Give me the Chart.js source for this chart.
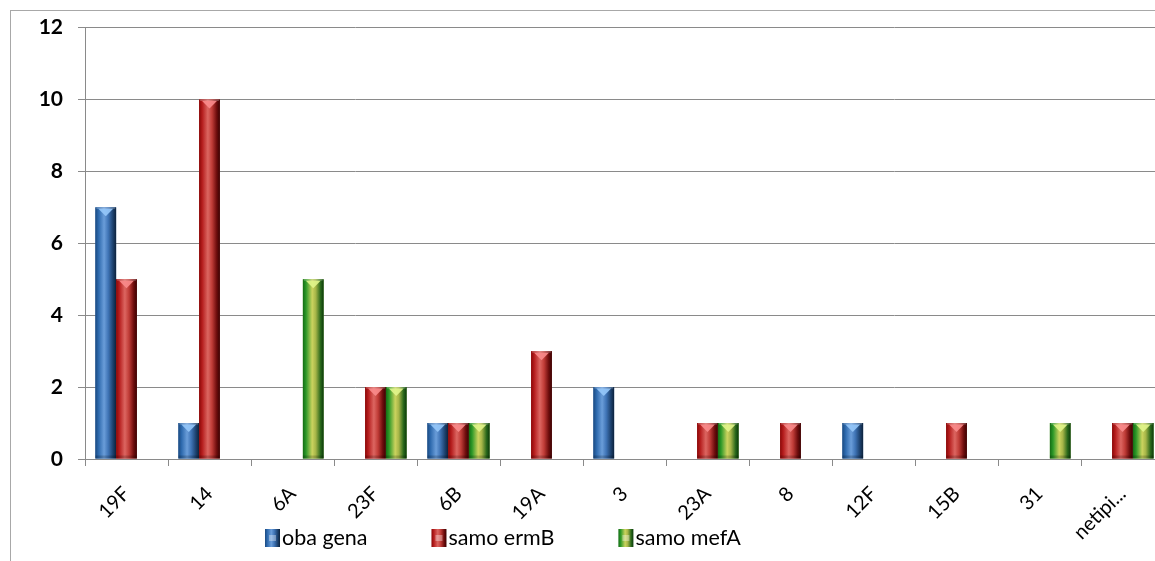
<!DOCTYPE html>
<html>
<head>
<meta charset="utf-8">
<script src="https://cdn.jsdelivr.net/npm/chart.js@4/dist/chart.umd.min.js"></script>
<style>
  html, body { margin: 0; padding: 0; background: #fff; overflow: hidden; }
  #frame { position: absolute; left: 10px; top: 10px; width: 1300px; height: 700px;
           border: 1px solid #a8a8a8; box-sizing: border-box; }
  #wrap { position: absolute; left: 0; top: 0; width: 1175px; height: 561px; }
</style>
</head>
<body>
<div id="frame"></div>
<div id="wrap"><canvas id="c"></canvas></div>
<script>
// Serotypes on the x axis
const categories = ['19F', '14', '6A', '23F', '6B', '19A', '3', '23A', '8', '12F', '15B', '31', 'netipi...'];

// Number of isolates per resistance-gene profile
const obaGena   = [7, 1, 0, 0, 1, 0, 2, 0, 0, 1, 0, 0, 0];
const samoErmB  = [5, 10, 0, 2, 1, 3, 0, 1, 1, 0, 1, 0, 1];
const samoMefA  = [0, 0, 5, 2, 1, 0, 0, 1, 0, 0, 0, 1, 1];

const seriesNames = ['oba gena', 'samo ermB', 'samo mefA'];
const yTicks = [0, 2, 4, 6, 8, 10, 12];

const FONT = 'Lato, "Open Sans", sans-serif';
const GRID = '#8a8a8a';

// Cylinder-like shading for each series: [stop, colour]
const shades = [
  { base: '#3a6fb0', hi: 'rgba(150,200,250,0.9)',
    stops: [[0, '#1b4a80'], [0.15, '#2d69ad'], [0.42, '#6a9dd9'], [0.62, '#3f74b6'], [0.85, '#1c406c'], [1, '#0d223c']] },
  { base: '#b83030', hi: 'rgba(250,140,140,0.9)',
    stops: [[0, '#8a0808'], [0.15, '#b51d1d'], [0.42, '#dc6661'], [0.62, '#c03c37'], [0.85, '#6c0c0c'], [1, '#380303']] },
  { base: '#6ea83a', hi: 'rgba(225,245,140,0.9)',
    stops: [[0, '#136c13'], [0.15, '#2c9828'], [0.45, '#cbd35e'], [0.62, '#a6b548'], [0.85, '#2a681b'], [1, '#0a380a']] }
];

function shadeGradient(ctx, x0, x1, idx) {
  const g = ctx.createLinearGradient(x0, 0, x1, 0);
  shades[idx].stops.forEach(s => g.addColorStop(s[0], s[1]));
  return g;
}

// Paints the shaded columns over the flat bars that Chart.js lays out
const barShading = {
  id: 'barShading',
  afterDatasetsDraw(chart) {
    const ctx = chart.ctx;
    ctx.save();
    chart.data.datasets.forEach((ds, di) => {
      const meta = chart.getDatasetMeta(di);
      meta.data.forEach((el, i) => {
        if (!ds.data[i]) return;
        const p = el.getProps(['x', 'y', 'base', 'width'], true);
        const x0 = p.x - p.width / 2, x1 = p.x + p.width / 2;
        const top = Math.min(p.y, p.base), bot = Math.max(p.y, p.base);
        ctx.fillStyle = shadeGradient(ctx, x0, x1, di);
        ctx.fillRect(x0, top, p.width, bot - top);
        // darker bevel at the foot of the column
        ctx.fillStyle = 'rgba(0,0,0,0.18)';
        ctx.fillRect(x0, bot - 3, p.width, 3);
        // light bevel cap at the top
        ctx.fillStyle = shades[di].hi;
        ctx.beginPath();
        ctx.moveTo(x0 + 3, top + 1.5);
        ctx.lineTo(x1 - 3, top + 1.5);
        ctx.lineTo(p.x, top + 9);
        ctx.closePath();
        ctx.fill();
        ctx.fillStyle = 'rgba(255,255,255,0.25)';
        ctx.fillRect(x0 + 1, top, p.width - 2, 1.5);
      });
    });
    ctx.restore();
  }
};

// Legend row under the axis labels
const bottomLegend = {
  id: 'bottomLegend',
  afterDraw(chart) {
    const ctx = chart.ctx;
    ctx.save();
    ctx.font = '21.5px ' + FONT;
    ctx.textBaseline = 'middle';
    ctx.textAlign = 'left';
    let x = 265;
    const yMid = 538;
    const gap = 64;
    chart.data.datasets.forEach((ds, di) => {
      const bw = 15, bh = 18;
      ctx.fillStyle = shadeGradient(ctx, x, x + bw, di);
      ctx.fillRect(x, yMid - bh / 2, bw, bh);
      ctx.fillStyle = 'rgba(255,255,255,0.35)';
      ctx.fillRect(x + 4, yMid - 3, bw - 8, 6);
      ctx.fillStyle = '#000';
      ctx.fillText(ds.label, x + bw + 2, yMid);
      x += bw + 2 + ctx.measureText(ds.label).width + gap;
    });
    ctx.restore();
  }
};

const seriesValues = [obaGena, samoErmB, samoMefA];

new Chart(document.getElementById('c'), {
  type: 'bar',
  data: {
    labels: categories,
    datasets: seriesNames.map((name, i) => ({
      label: name,
      data: seriesValues[i],
      backgroundColor: shades[i].base,
      borderWidth: 0,
      barPercentage: 1,
      categoryPercentage: 0.75
    }))
  },
  options: {
    responsive: true,
    maintainAspectRatio: false,
    animation: false,
    layout: { padding: { left: 10, right: 11, top: 24, bottom: 0 } },
    plugins: {
      legend: { display: false },
      tooltip: { enabled: false }
    },
    scales: {
      x: {
        offset: true,
        grid: { display: true, drawOnChartArea: false, drawTicks: true, tickLength: 7, offset: true, color: GRID },
        border: { display: true, color: GRID, width: 1 },
        ticks: {
          color: '#000',
          font: { family: FONT, size: 20 },
          minRotation: 45, maxRotation: 45,
          autoSkip: false,
          padding: 16
        },
        afterFit(scale) { scale.height = 102; }
      },
      y: {
        min: 0, max: 12,
        afterBuildTicks(scale) { scale.ticks = yTicks.map(v => ({ value: v })); },
        grid: { color: GRID, drawTicks: true, tickLength: 7 },
        border: { display: true, color: GRID, width: 1 },
        ticks: {
          color: '#000',
          font: { family: FONT, size: 21, weight: 'bold' },
          padding: 15
        },
        afterFit(scale) { scale.width = 75; }
      }
    }
  },
  plugins: [barShading, bottomLegend]
});
</script>
</body>
</html>
